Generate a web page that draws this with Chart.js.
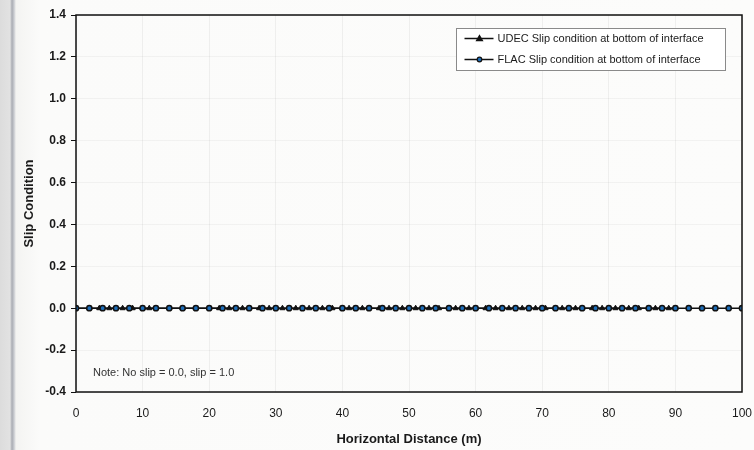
<!DOCTYPE html>
<html>
<head>
<meta charset="UTF-8">
<title>Slip Condition</title>
<script src="https://cdn.jsdelivr.net/npm/chart.js@4/dist/chart.umd.min.js"></script>
<style>
  html, body { margin: 0; padding: 0; }
  body {
    width: 754px; height: 450px; overflow: hidden;
    background: linear-gradient(to right, #dcdcdc 0px, #e2e2e2 10px, #a9acb3 12px, #c9cbd0 14px, #f4f4f2 16px, #fbfbfa 40px, #fcfcfb 100%);
  }
  #chart { display: block; }
</style>
</head>
<body>
<canvas id="chart" width="754" height="450"></canvas>
<script>
// Slip condition along the interface, UDEC and FLAC
var udecX = [0, 2, 3.5, 5, 6, 7, 8.5, 10, 11, 12, 14, 16, 18, 20, 21.5, 23, 24, 25, 26, 27.5,
  29, 31, 33, 35, 37, 38.5, 40, 41, 42, 43, 44, 45.5, 47, 49, 51, 53, 54.5, 56, 57, 58,
  59, 60, 61.5, 63, 65, 67, 69, 70.5, 72, 73, 74, 75, 76, 77.5, 79, 81, 83, 84.5, 86, 87,
  88, 89, 90];
var udecSlip = [0, 0, 0, 0, 0, 0, 0, 0, 0, 0, 0, 0, 0, 0, 0, 0, 0, 0, 0, 0,
  0, 0, 0, 0, 0, 0, 0, 0, 0, 0, 0, 0, 0, 0, 0, 0, 0, 0, 0, 0,
  0, 0, 0, 0, 0, 0, 0, 0, 0, 0, 0, 0, 0, 0, 0, 0, 0, 0, 0, 0,
  0, 0, 0];
var flacX = [0, 2, 4, 6, 8, 10, 12, 14, 16, 18, 20, 22, 24, 26, 28, 30, 32, 34, 36, 38,
  40, 42, 44, 46, 48, 50, 52, 54, 56, 58, 60, 62, 64, 66, 68, 70, 72, 74, 76, 78,
  80, 82, 84, 86, 88, 90, 92, 94, 96, 98, 100];
var flacSlip = [0, 0, 0, 0, 0, 0, 0, 0, 0, 0, 0, 0, 0, 0, 0, 0, 0, 0, 0, 0,
  0, 0, 0, 0, 0, 0, 0, 0, 0, 0, 0, 0, 0, 0, 0, 0, 0, 0, 0, 0,
  0, 0, 0, 0, 0, 0, 0, 0, 0, 0, 0];
var seriesNames = ['UDEC Slip condition at bottom of interface', 'FLAC Slip condition at bottom of interface'];
var noteText = 'Note: No slip = 0.0, slip = 1.0';

function toPoints(xs, ys) {
  return xs.map(function (x, i) { return { x: x, y: ys[i] }; });
}

var FONT = 'Arial, "Liberation Sans", sans-serif';
var INK = '#1a1a1a';

// legend box, frame and note drawn on top of the chart area
var extras = {
  id: 'extras',
  afterDraw: function (chart) {
    var ctx = chart.ctx;
    var area = chart.chartArea;
    ctx.save();
    ctx.strokeStyle = '#111';
    ctx.lineWidth = 1.5;
    ctx.strokeRect(area.left, area.top, area.right - area.left, area.bottom - area.top);

    var bx = 456.5, by = 28.5, bw = 269, bh = 42;
    ctx.fillStyle = '#ffffff';
    ctx.fillRect(bx, by, bw, bh);
    ctx.strokeStyle = '#8a8a8a';
    ctx.lineWidth = 1;
    ctx.strokeRect(bx, by, bw, bh);
    ctx.font = '11px ' + FONT;
    ctx.textBaseline = 'middle';
    chart.data.datasets.forEach(function (ds, i) {
      var y = by + 10 + i * 21;
      ctx.strokeStyle = ds.borderColor;
      ctx.lineWidth = 1.5;
      ctx.beginPath();
      ctx.moveTo(bx + 8, y);
      ctx.lineTo(bx + 37, y);
      ctx.stroke();
      ctx.fillStyle = ds.pointBackgroundColor;
      ctx.strokeStyle = ds.pointBorderColor;
      ctx.lineWidth = 1.2;
      ctx.beginPath();
      if (ds.pointStyle === 'triangle') {
        ctx.moveTo(bx + 23, y - 3);
        ctx.lineTo(bx + 26, y + 2.2);
        ctx.lineTo(bx + 20, y + 2.2);
        ctx.closePath();
      } else {
        ctx.arc(bx + 23, y, 2.3, 0, Math.PI * 2);
      }
      ctx.fill();
      ctx.stroke();
      ctx.fillStyle = INK;
      ctx.fillText(ds.label, bx + 41, y);
    });

    ctx.font = '11px ' + FONT;
    ctx.fillStyle = '#333';
    ctx.fillText(noteText, 93, 373);
    ctx.restore();
  }
};

new Chart(document.getElementById('chart'), {
  type: 'scatter',
  data: {
    datasets: [
      {
        label: seriesNames[0],
        data: toPoints(udecX, udecSlip),
        showLine: true,
        borderColor: '#111',
        borderWidth: 1.5,
        pointStyle: 'triangle',
        pointRadius: 3,
        pointBackgroundColor: '#111',
        pointBorderColor: '#111',
        pointBorderWidth: 1,
        order: 1
      },
      {
        label: seriesNames[1],
        data: toPoints(flacX, flacSlip),
        showLine: true,
        borderColor: '#111',
        borderWidth: 1.5,
        pointStyle: 'circle',
        pointRadius: 2.6,
        pointBackgroundColor: '#1d6db8',
        pointBorderColor: '#111',
        pointBorderWidth: 1.5,
        order: 0
      }
    ]
  },
  options: {
    responsive: false,
    animation: false,
    layout: { padding: { left: 0, right: 12, top: 15, bottom: 0 } },
    plugins: {
      legend: { display: false },
      tooltip: { enabled: false }
    },
    scales: {
      x: {
        type: 'linear',
        min: 0,
        max: 100,
        afterFit: function (s) {
          s.height = 58;
          s.paddingLeft = 0;
          s.paddingRight = 0;
        },
        ticks: {
          stepSize: 10,
          padding: 14,
          color: INK,
          font: { family: FONT, size: 12 }
        },
        grid: {
          color: 'rgba(0,0,0,0.05)',
          drawTicks: false
        },
        border: { display: false },
        title: {
          display: true,
          text: 'Horizontal Distance (m)',
          color: INK,
          font: { family: FONT, size: 13, weight: 'bold' },
          padding: { top: 0, bottom: 3 }
        }
      },
      y: {
        type: 'linear',
        min: -0.4,
        max: 1.4,
        afterFit: function (s) {
          s.width = 76;
          s.paddingTop = 0;
          s.paddingBottom = 0;
        },
        ticks: {
          stepSize: 0.2,
          padding: 5,
          color: INK,
          font: { family: FONT, size: 12, weight: 'bold' },
          callback: function (v) { return (Math.abs(v) < 1e-9 ? 0 : v).toFixed(1); }
        },
        grid: {
          color: 'rgba(0,0,0,0.04)',
          tickColor: '#111',
          tickLength: 5
        },
        border: { display: false },
        title: {
          display: true,
          text: 'Slip Condition',
          color: INK,
          font: { family: FONT, size: 13, weight: 'bold' },
          padding: { top: 22, bottom: 0 }
        }
      }
    }
  },
  plugins: [extras]
});
</script>
</body>
</html>
